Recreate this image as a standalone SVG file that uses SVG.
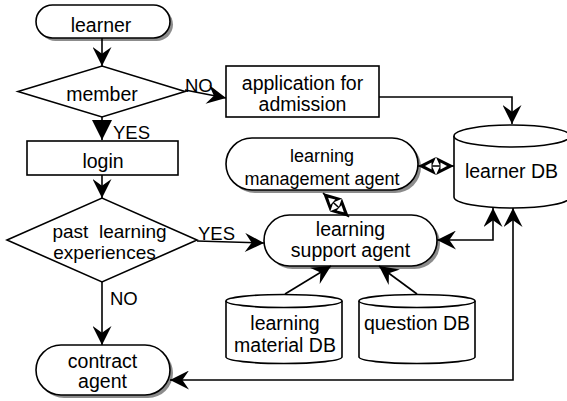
<svg xmlns="http://www.w3.org/2000/svg" width="567" height="401" viewBox="0 0 567 401">
<style>
.s{fill:#fff;stroke:#000;stroke-width:1.6}
.sh{fill:#8c8c8c;stroke:none}
.c{fill:none;stroke:#000;stroke-width:1.6}
text{font-family:"Liberation Sans",Arial,sans-serif;font-size:19.5px;fill:#000;text-anchor:middle}
.m{font-size:18px}
.p{font-size:19px}
.l{text-anchor:start;font-size:18.5px}
</style>
<defs>
<marker id="a" viewBox="0 0 20 20" refX="20" refY="10" markerWidth="20" markerHeight="19" markerUnits="userSpaceOnUse" orient="auto-start-reverse">
<path d="M20,10 L0,0 L7,10 L0,20 Z" fill="#000"/>
</marker>
<marker id="t" viewBox="0 0 20 20" refX="20" refY="10" markerWidth="20" markerHeight="20" markerUnits="userSpaceOnUse" orient="auto">
<path d="M20,10 L0,0 L0,20 Z" fill="#000"/>
</marker>
<marker id="d" viewBox="0 0 18 18" refX="18" refY="9" markerWidth="18" markerHeight="18" markerUnits="userSpaceOnUse" orient="auto-start-reverse">
<path d="M18,9 L0,0 L4,9 L0,18 Z" fill="#000"/>
<path d="M11,9 L4.5,5.5 L4.5,12.5 Z" fill="#fff"/>
</marker>
</defs>
<g id="learner">
<rect class="sh" x="39" y="8" width="134" height="33" rx="16.5"/>
<rect class="s" x="36" y="5" width="134" height="33" rx="16.5"/>
<text x="101" y="32">learner</text>
</g>
<g id="member">
<polygon class="s" points="18,91.5 102,66 185,91.5 102,117"/>
<text x="102" y="101">member</text>
</g>
<g id="application">
<rect class="s" x="226" y="66" width="153" height="51"/>
<text x="302.5" y="90">application for</text>
<text x="302.5" y="111">admission</text>
</g>
<g id="login">
<rect class="s" x="27" y="141" width="151" height="34"/>
<text x="103" y="168">login</text>
</g>
<g id="past">
<polygon class="s" points="7,240 102,198 197,240 102,282"/>
<text class="p" x="109.5" y="238" xml:space="preserve">past  learning</text>
<text class="p" x="104.5" y="259">experiences</text>
</g>
<g id="contract">
<rect class="sh" x="39" y="348" width="134" height="50" rx="25"/>
<rect class="s" x="36" y="345" width="134" height="50" rx="25"/>
<text x="102.5" y="368">contract</text>
<text x="102.5" y="388">agent</text>
</g>
<g id="mgmt">
<rect class="sh" x="229" y="141" width="192" height="52" rx="26"/>
<rect class="s" x="226" y="138" width="192" height="52" rx="26"/>
<text class="m" x="322" y="162">learning</text>
<text class="m" x="322" y="185">management agent</text>
</g>
<g id="support">
<rect class="sh" x="267" y="218" width="173" height="51" rx="25.5"/>
<rect class="s" x="264" y="215" width="173" height="51" rx="25.5"/>
<text x="350.5" y="236">learning</text>
<text x="350.5" y="257">support agent</text>
</g>
<g id="learnerdb">
<path class="s" d="M454,136 L454,197 A58,11 0 0 0 570,197 L570,136"/>
<ellipse class="s" cx="512" cy="136" rx="58" ry="11"/>
<text x="511.5" y="178">learner DB</text>
</g>
<g id="materialdb">
<path class="s" d="M226,301 L226,357 A58,6.5 0 0 0 342,357 L342,301"/>
<ellipse class="s" cx="284" cy="301" rx="58" ry="6.5"/>
<text x="285" y="330">learning</text>
<text x="285" y="352">material DB</text>
</g>
<g id="questiondb">
<path class="s" d="M359,301 L359,357 A58,6.5 0 0 0 475,357 L475,301"/>
<ellipse class="s" cx="417" cy="301" rx="58" ry="6.5"/>
<text x="417" y="330">question DB</text>
</g>
<g id="connectors">
<path class="c" d="M102,38 V66" marker-end="url(#a)"/>
<path class="c" d="M185,90 L226,98" marker-end="url(#a)"/>
<path class="c" d="M379,97 H512 V124" marker-end="url(#a)"/>
<path class="c" d="M102,117 V140" marker-end="url(#t)"/>
<path class="c" d="M102,175 V198" marker-end="url(#a)"/>
<path class="c" d="M197,241 L264,243" marker-end="url(#a)"/>
<path class="c" d="M102,282 V345" marker-end="url(#a)"/>
<path class="c" d="M418,166 H454" marker-start="url(#d)" marker-end="url(#d)"/>
<path class="c" d="M323,193 L349,217" marker-start="url(#d)" marker-end="url(#d)"/>
<path class="c" d="M437,240 H493 V208" marker-start="url(#a)" marker-end="url(#a)"/>
<path class="c" d="M170,380 H513 V208" marker-start="url(#a)" marker-end="url(#a)"/>
<path class="c" d="M285,294 L331,266" marker-end="url(#a)"/>
<path class="c" d="M417,294 L379,266" marker-end="url(#a)"/>
<text class="l" x="185" y="92">NO</text>
<text class="l" x="113" y="139">YES</text>
<text class="l" x="198" y="240">YES</text>
<text class="l" x="110" y="305">NO</text>
</g>
</svg>
